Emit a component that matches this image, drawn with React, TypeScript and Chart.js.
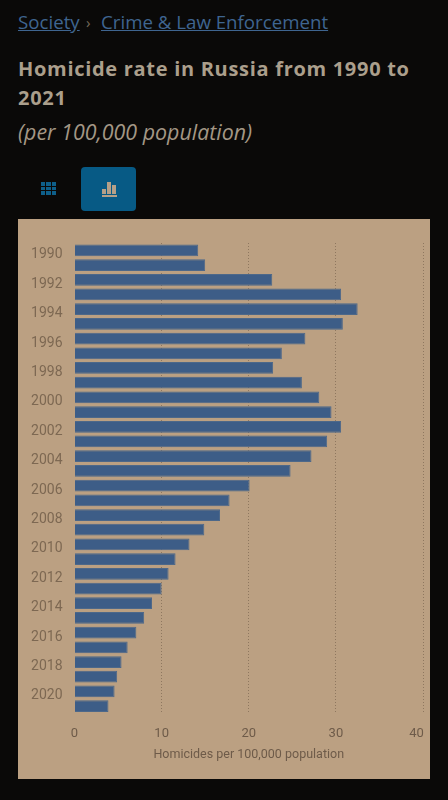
import React, { useEffect, useRef } from "react";
import { Chart, registerables } from "chart.js";

Chart.register(...registerables);

const years = ["1990","1991","1992","1993","1994","1995","1996","1997","1998","1999","2000","2001","2002","2003","2004","2005","2006","2007","2008","2009","2010","2011","2012","2013","2014","2015","2016","2017","2018","2019","2020","2021"];
const homicides = [14.2,15.0,22.7,30.6,32.5,30.8,26.5,23.8,22.8,26.1,28.1,29.5,30.6,29.0,27.2,24.8,20.1,17.8,16.7,14.9,13.2,11.6,10.8,10.0,8.9,8.0,7.1,6.1,5.4,4.9,4.6,3.9];
const xTicks = [0, 10, 20, 30, 40];
const axisTitle = "Homicides per 100,000 population";

const abs = (left: number, top: number, extra: React.CSSProperties = {}): React.CSSProperties => ({ position: "absolute", left, top, whiteSpace: "nowrap", fontFamily: "'Open Sans', sans-serif", ...extra });

export default function App() {
  const ref = useRef<HTMLCanvasElement>(null);
  useEffect(() => {
    const chart = new Chart(ref.current!, {
      type: "bar",
      data: {
        labels: years,
        datasets: [{ data: homicides, backgroundColor: "#3d5d87", borderColor: "#4d6889", borderWidth: 1, barPercentage: 0.8, categoryPercentage: 1 }],
      },
      options: {
        indexAxis: "y",
        responsive: false,
        animation: false,
        layout: { padding: { left: 0, top: 24, right: 7, bottom: 16.5 } },
        plugins: { legend: { display: false }, tooltip: { enabled: false } },
        scales: {
          x: {
            type: "linear",
            min: 0,
            max: 40,
            afterBuildTicks: (s: any) => { s.ticks = xTicks.map((value) => ({ value })); },
            afterFit: (s: any) => { s.height = 49; s.paddingLeft = 0; s.paddingRight = 0; },
            border: { display: false, dash: [1, 2] },
            grid: { drawTicks: false, color: (c: any) => (c.tick && c.tick.value === 0 ? "rgba(0,0,0,0)" : "rgba(105,85,65,0.55)"), lineWidth: 1 },
            ticks: {
              color: "#6e5b49",
              font: { family: "Roboto", size: 13 },
              padding: 12,
              maxRotation: 0,
              callback: (v: any) => (v === 40 ? "40    " : String(v)),
            },
            title: { display: true, text: axisTitle, color: "#6e5b49", font: { family: "Roboto", size: 12.5 }, padding: { top: 0, bottom: 0 } },
          },
          y: {
            afterFit: (s: any) => { s.width = 56.5; s.paddingTop = 0; s.paddingBottom = 0; },
            border: { display: false },
            grid: { display: false, drawTicks: false },
            ticks: {
              color: "#7d6852",
              font: { family: "Roboto", size: 14 },
              padding: 12,
              labelOffset: 4.5,
              autoSkip: false,
              callback: (_v: any, i: number) => (i % 2 === 0 ? years[i] : ""),
            },
          },
        },
      },
    } as any);
    return () => chart.destroy();
  }, []);

  return (
    <div style={{ position: "absolute", left: 0, top: 0, width: 448, height: 800, background: "#0a0908", overflow: "hidden" }}>
      <style>{"body{margin:0;background:#0a0908}"}</style>
      <a style={abs(18, 9, { fontSize: 18.7, color: "#3f6590", textDecoration: "underline" })}>Society</a>
      <span style={abs(86, 12, { fontSize: 15, color: "#77695a" })}>›</span>
      <a style={abs(101, 9, { fontSize: 18.7, color: "#3f6590", textDecoration: "underline" })}>Crime &amp; Law Enforcement</a>
      <div style={abs(18, 54, { fontSize: 20, fontWeight: 700, color: "#ab9f8c", lineHeight: "29px", width: 400, whiteSpace: "normal", letterSpacing: 0.7 })}>Homicide rate in Russia from 1990 to 2021</div>
      <div style={abs(18, 117, { fontSize: 21.4, fontStyle: "italic", color: "#a39785" })}>(per 100,000 population)</div>
      <div style={{ position: "absolute", left: 41, top: 182, width: 15, height: 13, display: "grid", gridTemplateColumns: "repeat(3,1fr)", gap: 1 }}>
        {Array.from({ length: 9 }).map((_, i) => <div key={i} style={{ background: "#0e5f8a" }} />)}
      </div>
      <div style={{ position: "absolute", left: 81, top: 167, width: 55, height: 44, borderRadius: 4, background: "#075a85" }}>
        <div style={{ position: "absolute", left: 21, top: 22, width: 4, height: 5, background: "#b5a088" }} />
        <div style={{ position: "absolute", left: 26, top: 15, width: 4, height: 12, background: "#b5a088" }} />
        <div style={{ position: "absolute", left: 31, top: 18, width: 4, height: 9, background: "#b5a088" }} />
        <div style={{ position: "absolute", left: 21, top: 28, width: 15, height: 2, background: "#b5a088" }} />
      </div>
      <canvas ref={ref} width={412} height={560} style={{ position: "absolute", left: 18, top: 219, background: "#bba082", display: "block" }} />
    </div>
  );
}
